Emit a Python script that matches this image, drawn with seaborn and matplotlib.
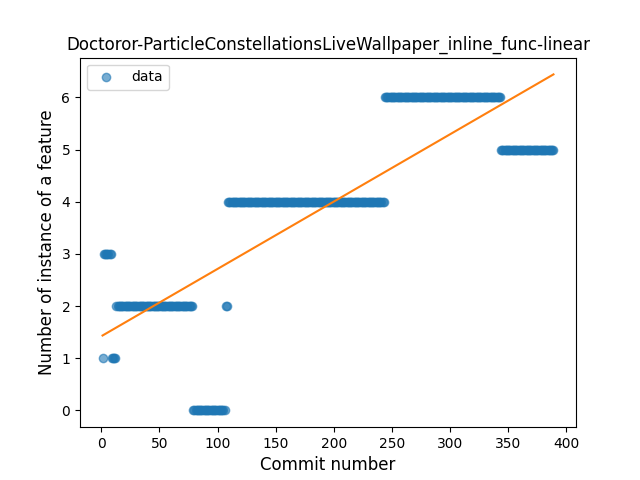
import numpy as np
import pandas as pd
import matplotlib
matplotlib.use("Agg")
import matplotlib.pyplot as plt
import seaborn as sns

# runs of commits sharing the same feature count (first commit, last commit, count)
run_start = [1, 2, 9, 13, 79, 107, 109, 244, 344]
run_end = [1, 8, 12, 78, 106, 108, 243, 343, 389]
run_value = [1, 3, 1, 2, 0, 2, 4, 6, 5]

title = "Doctoror-ParticleConstellationsLiveWallpaper_inline_func-linear"


def build_frame():
    commits, counts = [], []
    for s, e, v in zip(run_start, run_end, run_value):
        for c in range(s, e + 1):
            commits.append(c)
            counts.append(v)
    return pd.DataFrame({"commit": commits, "count": counts})


def main():
    df = build_frame()
    slope, intercept = np.polyfit(df["commit"], df["count"], 1)
    df["fit"] = slope * df["commit"] + intercept

    fig, ax = plt.subplots(figsize=(6.4, 4.8), dpi=100)
    sns.scatterplot(data=df, x="commit", y="count", ax=ax, s=36, alpha=0.6,
                    color="#1f77b4", edgecolor="#1f77b4", linewidth=1,
                    label="data")
    sns.lineplot(data=df, x="commit", y="fit", ax=ax, color="#ff7f0e",
                 linewidth=1.5)

    ax.set_title(title, fontsize=12)
    ax.set_xlabel("Commit number", fontsize=12)
    ax.set_ylabel("Number of instance of a feature", fontsize=12)
    ax.set_xticks(range(0, 401, 50))
    ax.legend(loc="upper left")

    fig.savefig("out.png", dpi=100)
    plt.close(fig)


if __name__ == "__main__":
    main()
